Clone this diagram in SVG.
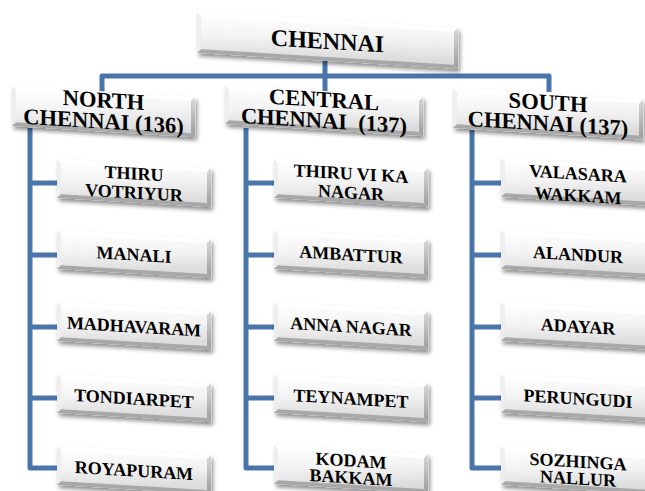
<svg xmlns="http://www.w3.org/2000/svg" width="645" height="491" viewBox="0 0 645 491">
<defs>
  <linearGradient id="face" x1="0" y1="0" x2="0.3" y2="1">
    <stop offset="0" stop-color="#ffffff"/>
    <stop offset="0.55" stop-color="#f3f3f3"/>
    <stop offset="1" stop-color="#dcdcdc"/>
  </linearGradient>
  <linearGradient id="rgrad" x1="0" y1="0" x2="0" y2="1">
    <stop offset="0" stop-color="#d8d8d8"/>
    <stop offset="1" stop-color="#9c9c9c"/>
  </linearGradient>
  <filter id="sh" x="-10%" y="-20%" width="125%" height="160%">
    <feDropShadow dx="2" dy="3" stdDeviation="2" flood-color="#000" flood-opacity="0.45"/>
  </filter>
</defs>
<style>
  .face { fill: url(#face); filter: url(#sh); }
  .bt { fill: #ffffff; }
  .bl { fill: #eeeeee; }
  .br { fill: url(#rgrad); }
  .bb { fill: #a8a8a8; }
  .conn { fill: none; stroke: #4a75ab; stroke-width: 5; stroke-linejoin: round; stroke-linecap: butt; }
  text { font-family: "Liberation Serif", "Times New Roman", serif; font-weight: bold; fill: #000; text-anchor: middle; }
  .t0 { font-size: 24px; }
  .t1 { font-size: 22.5px; }
  .t2 { font-size: 18px; }
</style>

<g id="connectors">
  <path class="conn" d="M102,92 V76 H549 V92"/>
  <path class="conn" d="M325,55 V92"/>
  <path class="conn" d="M30,128 V468 H60 M30,183 H60 M30,255 H60 M30,327 H60 M30,398 H60"/>
  <path class="conn" d="M246,128 V468 H277 M246,183 H277 M246,255 H277 M246,327 H277 M246,398 H277"/>
  <path class="conn" d="M472,130 V468 H504 M472,183 H504 M472,255 H504 M472,327 H504 M472,398 H504"/>
</g>

<!-- Top node -->
<g id="chennai" transform="translate(197,12) skewY(3.5)">
  <rect class="face" x="0" y="0" width="261" height="41"/>
  <polygon class="bt" points="0,0 261,0 257,4 4,4"/>
  <polygon class="bl" points="0,0 4,4 4,37 0,41"/>
  <polygon class="br" points="261,0 261,41 257,37 257,4"/>
  <polygon class="bb" points="0,41 261,41 257,37 4,37"/>
  <text class="t0" x="130.5" y="29">CHENNAI</text>
</g>

<!-- Level 2 -->
<g id="north" transform="translate(12,86) skewY(3.5)">
  <rect class="face" x="0" y="0" width="183" height="40"/>
  <polygon class="bt" points="0,0 183,0 179,4 4,4"/>
  <polygon class="bl" points="0,0 4,4 4,36 0,40"/>
  <polygon class="br" points="183,0 183,40 179,36 179,4"/>
  <polygon class="bb" points="0,40 183,40 179,36 4,36"/>
  <text class="t1" x="91.5" y="16">NORTH</text>
  <text class="t1" x="91.5" y="37">CHENNAI (136)</text>
</g>
<g id="central" transform="translate(225,85) skewY(3.5)">
  <rect class="face" x="0" y="0" width="198" height="39"/>
  <polygon class="bt" points="0,0 198,0 194,4 4,4"/>
  <polygon class="bl" points="0,0 4,4 4,35 0,39"/>
  <polygon class="br" points="198,0 198,39 194,35 194,4"/>
  <polygon class="bb" points="0,39 198,39 194,35 4,35"/>
  <text class="t1" x="99" y="16">CENTRAL</text>
  <text class="t1" x="99" y="37" xml:space="preserve">CHENNAI  (137)</text>
</g>
<g id="south" transform="translate(453,88) skewY(3.5)">
  <rect class="face" x="0" y="0" width="190" height="40"/>
  <polygon class="bt" points="0,0 190,0 186,4 4,4"/>
  <polygon class="bl" points="0,0 4,4 4,36 0,40"/>
  <polygon class="br" points="190,0 190,40 186,36 186,4"/>
  <polygon class="bb" points="0,40 190,40 186,36 4,36"/>
  <text class="t1" x="95" y="16">SOUTH</text>
  <text class="t1" x="95" y="37">CHENNAI (137)</text>
</g>

<!-- North children -->
<g id="n1" transform="translate(57,159) skewY(3.4)">
  <rect class="face" x="0" y="0" width="154" height="39"/>
  <polygon class="bt" points="0,0 154,0 150,4 4,4"/><polygon class="bl" points="0,0 4,4 4,35 0,39"/>
  <polygon class="br" points="154,0 154,39 150,35 150,4"/><polygon class="bb" points="0,39 154,39 150,35 4,35"/>
  <text class="t2" x="77" y="16">THIRU</text><text class="t2" x="77" y="35">VOTRIYUR</text>
</g>
<g id="n2" transform="translate(57,230) skewY(3.4)">
  <rect class="face" x="0" y="0" width="154" height="39"/>
  <polygon class="bt" points="0,0 154,0 150,4 4,4"/><polygon class="bl" points="0,0 4,4 4,35 0,39"/>
  <polygon class="br" points="154,0 154,39 150,35 150,4"/><polygon class="bb" points="0,39 154,39 150,35 4,35"/>
  <text class="t2" x="77" y="26">MANALI</text>
</g>
<g id="n3" transform="translate(57,302) skewY(3.4)">
  <rect class="face" x="0" y="0" width="154" height="39"/>
  <polygon class="bt" points="0,0 154,0 150,4 4,4"/><polygon class="bl" points="0,0 4,4 4,35 0,39"/>
  <polygon class="br" points="154,0 154,39 150,35 150,4"/><polygon class="bb" points="0,39 154,39 150,35 4,35"/>
  <text class="t2" x="77" y="26">MADHAVARAM</text>
</g>
<g id="n4" transform="translate(57,374) skewY(3.4)">
  <rect class="face" x="0" y="0" width="154" height="39"/>
  <polygon class="bt" points="0,0 154,0 150,4 4,4"/><polygon class="bl" points="0,0 4,4 4,35 0,39"/>
  <polygon class="br" points="154,0 154,39 150,35 150,4"/><polygon class="bb" points="0,39 154,39 150,35 4,35"/>
  <text class="t2" x="77" y="26">TONDIARPET</text>
</g>
<g id="n5" transform="translate(57,446) skewY(3.4)">
  <rect class="face" x="0" y="0" width="154" height="39"/>
  <polygon class="bt" points="0,0 154,0 150,4 4,4"/><polygon class="bl" points="0,0 4,4 4,35 0,39"/>
  <polygon class="br" points="154,0 154,39 150,35 150,4"/><polygon class="bb" points="0,39 154,39 150,35 4,35"/>
  <text class="t2" x="77" y="26">ROYAPURAM</text>
</g>

<!-- Central children -->
<g id="c1" transform="translate(274,159) skewY(3.4)">
  <rect class="face" x="0" y="0" width="154" height="39"/>
  <polygon class="bt" points="0,0 154,0 150,4 4,4"/><polygon class="bl" points="0,0 4,4 4,35 0,39"/>
  <polygon class="br" points="154,0 154,39 150,35 150,4"/><polygon class="bb" points="0,39 154,39 150,35 4,35"/>
  <text class="t2" x="77" y="16">THIRU VI KA</text><text class="t2" x="77" y="35">NAGAR</text>
</g>
<g id="c2" transform="translate(274,230) skewY(3.4)">
  <rect class="face" x="0" y="0" width="154" height="39"/>
  <polygon class="bt" points="0,0 154,0 150,4 4,4"/><polygon class="bl" points="0,0 4,4 4,35 0,39"/>
  <polygon class="br" points="154,0 154,39 150,35 150,4"/><polygon class="bb" points="0,39 154,39 150,35 4,35"/>
  <text class="t2" x="77" y="26">AMBATTUR</text>
</g>
<g id="c3" transform="translate(274,302) skewY(3.4)">
  <rect class="face" x="0" y="0" width="154" height="39"/>
  <polygon class="bt" points="0,0 154,0 150,4 4,4"/><polygon class="bl" points="0,0 4,4 4,35 0,39"/>
  <polygon class="br" points="154,0 154,39 150,35 150,4"/><polygon class="bb" points="0,39 154,39 150,35 4,35"/>
  <text class="t2" x="77" y="26">ANNA NAGAR</text>
</g>
<g id="c4" transform="translate(274,374) skewY(3.4)">
  <rect class="face" x="0" y="0" width="154" height="39"/>
  <polygon class="bt" points="0,0 154,0 150,4 4,4"/><polygon class="bl" points="0,0 4,4 4,35 0,39"/>
  <polygon class="br" points="154,0 154,39 150,35 150,4"/><polygon class="bb" points="0,39 154,39 150,35 4,35"/>
  <text class="t2" x="77" y="26">TEYNAMPET</text>
</g>
<g id="c5" transform="translate(274,445) skewY(3.4)">
  <rect class="face" x="0" y="0" width="154" height="39"/>
  <polygon class="bt" points="0,0 154,0 150,4 4,4"/><polygon class="bl" points="0,0 4,4 4,35 0,39"/>
  <polygon class="br" points="154,0 154,39 150,35 150,4"/><polygon class="bb" points="0,39 154,39 150,35 4,35"/>
  <text class="t2" x="77" y="17">KODAM</text><text class="t2" x="77" y="34">BAKKAM</text>
</g>

<!-- South children -->
<g id="s1" transform="translate(501,158) skewY(3.4)">
  <rect class="face" x="0" y="0" width="154" height="39"/>
  <polygon class="bt" points="0,0 154,0 150,4 4,4"/><polygon class="bl" points="0,0 4,4 4,35 0,39"/>
  <polygon class="br" points="154,0 154,39 150,35 150,4"/><polygon class="bb" points="0,39 154,39 150,35 4,35"/>
  <text class="t2" x="77" y="17">VALASARA</text><text class="t2" x="77" y="39">WAKKAM</text>
</g>
<g id="s2" transform="translate(501,230) skewY(3.4)">
  <rect class="face" x="0" y="0" width="154" height="39"/>
  <polygon class="bt" points="0,0 154,0 150,4 4,4"/><polygon class="bl" points="0,0 4,4 4,35 0,39"/>
  <polygon class="br" points="154,0 154,39 150,35 150,4"/><polygon class="bb" points="0,39 154,39 150,35 4,35"/>
  <text class="t2" x="77" y="26">ALANDUR</text>
</g>
<g id="s3" transform="translate(501,302) skewY(3.4)">
  <rect class="face" x="0" y="0" width="154" height="39"/>
  <polygon class="bt" points="0,0 154,0 150,4 4,4"/><polygon class="bl" points="0,0 4,4 4,35 0,39"/>
  <polygon class="br" points="154,0 154,39 150,35 150,4"/><polygon class="bb" points="0,39 154,39 150,35 4,35"/>
  <text class="t2" x="77" y="26">ADAYAR</text>
</g>
<g id="s4" transform="translate(501,374) skewY(3.4)">
  <rect class="face" x="0" y="0" width="154" height="39"/>
  <polygon class="bt" points="0,0 154,0 150,4 4,4"/><polygon class="bl" points="0,0 4,4 4,35 0,39"/>
  <polygon class="br" points="154,0 154,39 150,35 150,4"/><polygon class="bb" points="0,39 154,39 150,35 4,35"/>
  <text class="t2" x="77" y="26">PERUNGUDI</text>
</g>
<g id="s5" transform="translate(501,446) skewY(3.4)">
  <rect class="face" x="0" y="0" width="154" height="39"/>
  <polygon class="bt" points="0,0 154,0 150,4 4,4"/><polygon class="bl" points="0,0 4,4 4,35 0,39"/>
  <polygon class="br" points="154,0 154,39 150,35 150,4"/><polygon class="bb" points="0,39 154,39 150,35 4,35"/>
  <text class="t2" x="77" y="17">SOZHINGA</text><text class="t2" x="77" y="34">NALLUR</text>
</g>
</svg>
